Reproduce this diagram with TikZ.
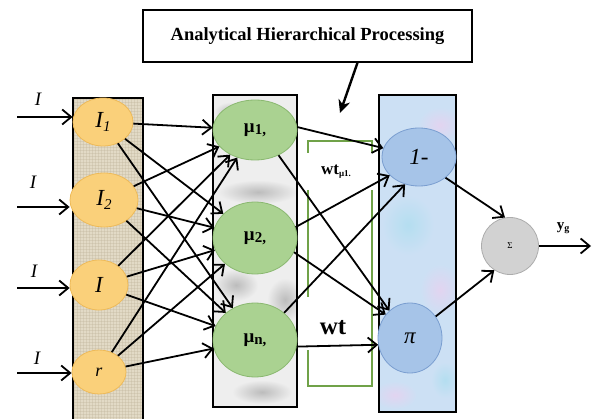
\documentclass[tikz,border=0pt]{standalone}
\usepackage{fontspec}
\setmainfont{Liberation Serif}
\usetikzlibrary{shapes.geometric,arrows.meta}

\definecolor{inFill}{RGB}{250,208,122}
\definecolor{inLine}{RGB}{238,186,88}
\definecolor{muFill}{RGB}{170,210,145}
\definecolor{muLine}{RGB}{138,184,112}
\definecolor{opFill}{RGB}{166,196,232}
\definecolor{opLine}{RGB}{122,158,208}
\definecolor{sgFill}{RGB}{210,210,210}
\definecolor{sgLine}{RGB}{172,172,172}
\definecolor{burlap}{RGB}{226,218,198}
\definecolor{burlapDark}{RGB}{188,176,150}
\definecolor{muBg}{RGB}{238,238,238}
\definecolor{muSmudge}{RGB}{188,188,188}
\definecolor{opBg}{RGB}{204,224,244}
\definecolor{opLav}{RGB}{226,212,240}
\definecolor{opCyan}{RGB}{180,222,240}
\definecolor{frameGreen}{RGB}{112,162,72}

% lowered index in the size given
\newcommand{\lowidx}[3]{\raisebox{-#2}{\fontsize{#1}{#1}\selectfont #3}}

\begin{document}
\begin{tikzpicture}[x=1pt,y=-1pt,
  lnk/.style={line width=1.8pt,
    -{Straight Barb[length=9pt,width=15pt,line width=1.8pt]}},
  layerframe/.style={line width=1.8pt},
  inpnode/.style={ellipse, draw=inLine, fill=inFill, line width=0.8pt,
    inner sep=0pt, font=\fontsize{23}{23}\selectfont\itshape},
  munode/.style={ellipse, draw=muLine, fill=muFill, line width=0.8pt,
    inner sep=0pt, minimum width=84pt, font=\fontsize{19}{19}\selectfont\bfseries},
  opnode/.style={ellipse, draw=opLine, fill=opFill, line width=0.8pt,
    inner sep=0pt, font=\fontsize{23}{23}\selectfont\itshape},
  sgnode/.style={circle, draw=sgLine, fill=sgFill, line width=0.8pt,
    inner sep=0pt, minimum size=57pt, font=\fontsize{9}{9}\selectfont},
  inlabel/.style={font=\fontsize{19}{19}\selectfont\itshape, inner sep=0pt},
  greenline/.style={frameGreen, line width=1.6pt}
]
\useasboundingbox (0,0) rectangle (593,419);

% ---------- layer backgrounds ----------
% input layer: woven texture
\fill[burlap] (73,98) rectangle (143,419);
\begin{scope}
  \clip (73,98) rectangle (143,419);
  \foreach \x in {74,77,...,143}
    \draw[burlapDark, line width=0.5pt, opacity=0.3] (\x,98) -- (\x,419);
  \foreach \y in {99,102,...,419}
    \draw[burlapDark, line width=0.5pt, opacity=0.3] (73,\y) -- (143,\y);
\end{scope}
\draw[layerframe] (73,419) -- (73,98) -- (143,98) -- (143,419);

% membership layer: grey marble
\fill[muBg] (213,95) rectangle (297,407);
\begin{scope}
  \clip (213,95) rectangle (297,407);
  \shade[inner color=muSmudge, outer color=muBg] (258,192) ellipse (40 and 12);
  \shade[inner color=muSmudge, outer color=muBg] (236,285) ellipse (22 and 16);
  \shade[inner color=muSmudge, outer color=muBg] (285,300) ellipse (18 and 22);
  \shade[inner color=muSmudge, outer color=muBg] (262,392) ellipse (30 and 12);
  \shade[inner color=muSmudge, outer color=muBg] (230,112) ellipse (16 and 10);
\end{scope}
\draw[layerframe] (213,95) rectangle (297,407);

% rule layer: pale blue marble
\fill[opBg] (379,95) rectangle (456,412);
\begin{scope}
  \clip (379,95) rectangle (456,412);
  \shade[inner color=opLav, outer color=opBg] (440,125) ellipse (22 and 18);
  \shade[inner color=opCyan, outer color=opBg] (408,225) ellipse (26 and 30);
  \shade[inner color=opLav, outer color=opBg] (440,290) ellipse (20 and 26);
  \shade[inner color=opLav, outer color=opBg] (395,395) ellipse (22 and 14);
  \shade[inner color=opCyan, outer color=opBg] (445,380) ellipse (14 and 18);
\end{scope}
\draw[layerframe] (379,95) rectangle (456,412);

% ---------- weight bracket ----------
\draw[greenline] (308,153) -- (308,141) -- (372,141) -- (372,153);
\draw[greenline] (308,190) -- (308,297);
\draw[greenline] (308,350) -- (308,386) -- (372,386) -- (372,190);

% ---------- AHP box ----------
\node[draw, line width=1.4pt, minimum width=329pt, minimum height=52pt,
      inner sep=0pt, font=\fontsize{18.5}{18.5}\selectfont\bfseries]
      (ahp) at (307.5,36) {Analytical Hierarchical Processing};
\coordinate (ahptip) at (340,113);
\draw[line width=2.4pt, -{Stealth[length=13pt,width=12pt]}]
      ([xshift=50pt]ahp.south) -- (ahptip);

% ---------- nodes ----------
\node[inpnode, minimum width=60pt, minimum height=48pt] (i1) at (103,122)
  {I\lowidx{15}{4pt}{1}};
\node[inpnode, minimum width=68pt, minimum height=54pt] (i2) at (104,200)
  {I\lowidx{15}{4pt}{2}};
\node[inpnode, minimum width=58pt, minimum height=50pt] (i3) at (99,285) {I};
\node[inpnode, minimum width=54pt, minimum height=44pt,
      font=\fontsize{18}{18}\selectfont\itshape] (i4) at (99,372) {r};

\node[munode, minimum height=60pt] (m1) at (255,130)
  {μ\lowidx{15}{2pt}{1,}};
\node[munode, minimum height=72pt] (m2) at (255,238)
  {μ\lowidx{15}{2pt}{2,}};
\node[munode, minimum height=74pt] (mn) at (255,340)
  {μ\lowidx{15}{2pt}{n,}};

\node[opnode, minimum width=74pt, minimum height=58pt] (one) at (419,157) {1-};
\node[opnode, minimum width=64pt, minimum height=70pt] (pi) at (410,338) {π};

\node[sgnode] (sg) at (510,246) {Σ};

% ---------- labels ----------
\node[inlabel] (l1) at (38,99) {I};
\node[inlabel] (l2) at (33,182) {I};
\node[inlabel] (l3) at (34,271) {I};
\node[inlabel] (l4) at (37,358) {I};

\node[font=\fontsize{17}{17}\selectfont\bfseries, inner sep=0pt] (wt1) at (336,172)
  {wt\lowidx{9}{2pt}{μ1.}};
\node[font=\fontsize{25}{25}\selectfont\bfseries, inner sep=0pt] (wt2) at (333,328) {wt};
\node[font=\fontsize{15}{15}\selectfont\bfseries, inner sep=0pt] (yg) at (563,228)
  {y\lowidx{10}{2pt}{g}};

% ---------- input arrows ----------
\coordinate (s1) at (17,117);
\coordinate (s2) at (17,207);
\coordinate (s3) at (17,288);
\coordinate (s4) at (17,373);
\draw[lnk] (s1) -- (s1 -| i1.west);
\draw[lnk] (s2) -- (s2 -| i2.west);
\draw[lnk] (s3) -- (s3 -| i3.west);
\draw[lnk] (s4) -- (s4 -| i4.west);

% ---------- input to membership ----------
\foreach \a in {i1,i2,i3,i4}
  \foreach \b in {m1,m2,mn}
    \draw[lnk] (\a) -- (\b);

% ---------- membership to rules ----------
\draw[lnk] (m1.4)   -- (one.166);
\draw[lnk] (m1.-47) -- (pi.127);
\draw[lnk] (m2.15)  -- (one.-148);
\draw[lnk] (m2.-20) -- (pi.136);
\draw[lnk] (mn.43)  -- (one.-117);
\draw[lnk] (mn.-9)  -- (pi.-168);

% ---------- rules to output ----------
\draw[lnk] (one.-38) -- (sg.100);
\draw[lnk] (pi.40)   -- (sg.-123);
\coordinate (yend) at (591,248);
\draw[lnk] (sg.east) -- (sg.east -| yend);
\end{tikzpicture}
\end{document}
